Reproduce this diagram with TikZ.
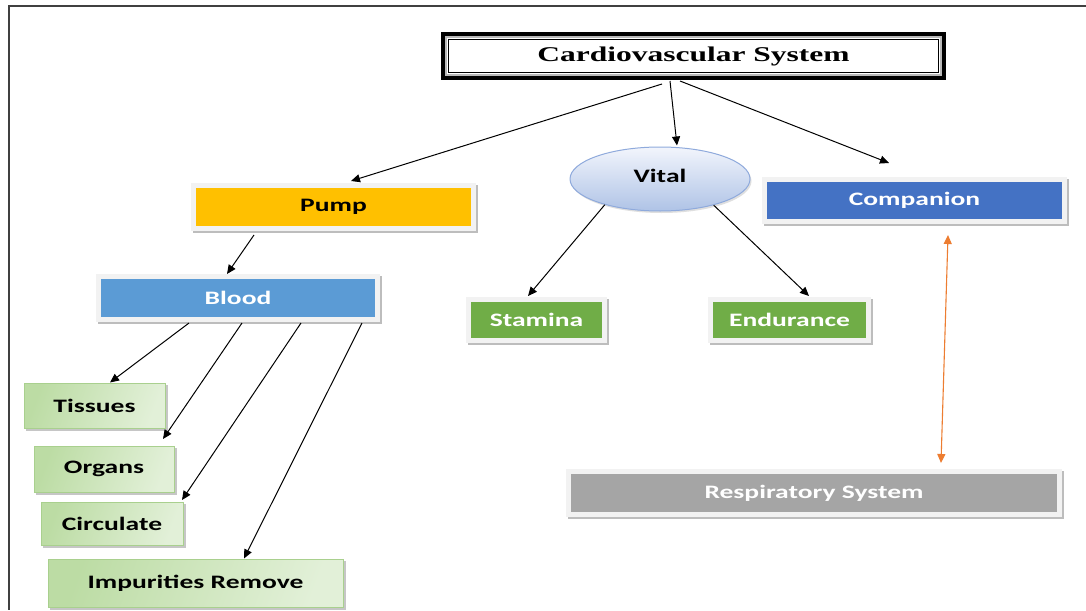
\documentclass[tikz,border=0pt]{standalone}
\usepackage{fontspec}
\usetikzlibrary{arrows.meta,calc,shapes.geometric}
\newfontfamily\boxfont{Carlito}[FakeStretch=1.45]
\newfontfamily\titlefont{Liberation Serif}[FakeStretch=1.5]
\definecolor{pumpc}{HTML}{FFC000}
\definecolor{bloodc}{HTML}{5B9BD5}
\definecolor{compc}{HTML}{4472C4}
\definecolor{greenc}{HTML}{70AD47}
\definecolor{respc}{HTML}{A5A5A5}
\definecolor{rim}{HTML}{F2F2F2}
\definecolor{shadowc}{HTML}{BDBDBD}
\definecolor{gone}{HTML}{BCDCA4}
\definecolor{gtwo}{HTML}{E2F0D8}
\definecolor{gbord}{HTML}{A9D08E}
\definecolor{vone}{HTML}{F2F5FC}
\definecolor{vtwo}{HTML}{AFC3E6}
\definecolor{vbord}{HTML}{8FAADC}
\definecolor{orangec}{HTML}{ED7D31}
\pgfdeclarelayer{background}
\pgfsetlayers{background,main}
\begin{document}
\begin{tikzpicture}[x=1pt,y=-1pt,
  bfont/.style={font=\boxfont\bfseries\fontsize{19pt}{22pt}\selectfont},
  plainbox/.style={bfont, draw=rim, line width=5pt, fill=#1, inner sep=0pt, text=white},
  greenbox/.style={bfont, draw=gbord, line width=1pt, left color=gone, right color=gtwo, shading angle=70, inner sep=0pt, text=black},
  arr/.style={-{Triangle[length=9pt,width=8pt]}, line width=1pt, black},
  oarr/.style={{Triangle[length=9pt,width=8pt]}-{Triangle[length=9pt,width=8pt]}, line width=1.1pt, orangec},
]
\useasboundingbox (0,0) rectangle (1086,610);
% frame
\draw[line width=1.6pt, black!75] (8,6) -- (1086,6);
\draw[line width=1.6pt, black!75] (9,5.2) -- (9,610);

% title
\node[draw=black, line width=1pt, fill=white, minimum width=490pt, minimum height=33pt, inner sep=0pt,
      font=\titlefont\bfseries\fontsize{21pt}{24pt}\selectfont] (title) at (693.5,56) {Cardiovascular System};
\draw[black, line width=4pt] ([shift={(-5pt,-5pt)}]title.south west) rectangle ([shift={(5pt,5pt)}]title.north east);
\draw[gray!55, line width=2.5pt] ([shift={(-1.8pt,-1.8pt)}]title.south west) rectangle ([shift={(1.8pt,1.8pt)}]title.north east);

% plain boxes
\node[plainbox=pumpc, text=black, minimum width=280pt, minimum height=43pt] (pump) at (333.5,207) {Pump};
\node[plainbox=bloodc, minimum width=279pt, minimum height=43pt] (blood) at (238,298) {Blood};
\node[plainbox=compc, minimum width=300pt, minimum height=42pt] (comp) at (914.5,200.5) {Companion};
\node[plainbox=greenc, minimum width=136pt, minimum height=41pt] (stam) at (536.5,320) {Stamina};
\node[plainbox=greenc, minimum width=158pt, minimum height=41pt] (endu) at (789.5,320) {Endurance};
\node[plainbox=respc, minimum width=491pt, minimum height=43pt] (resp) at (814,493) {Respiratory System};

% vital
\node[ellipse, bfont, draw=vbord, line width=1pt, top color=vone, bottom color=vtwo,
      minimum width=180pt, minimum height=64pt, inner sep=0pt] (vital) at (660,179) {\raisebox{6pt}{Vital}};

% green boxes
\node[greenbox, minimum width=141pt, minimum height=45pt] (tiss) at (94.5,405.5) {Tissues};
\node[greenbox, minimum width=140pt, minimum height=46pt] (org) at (104,469) {Organs};
\node[greenbox, minimum width=142pt, minimum height=43pt] (circ) at (112,523.5) {Circulate};
\node[greenbox, minimum width=295pt, minimum height=48pt] (imp) at (195.5,583) {Impurities Remove};

% shadows
\begin{pgfonlayer}{background}
\fill[white] (0,0) rectangle (1086,610);
\foreach \n in {pump,blood,comp,stam,endu,resp}
  \fill[shadowc] ([shift={(1.8pt,-1.8pt)}]\n.south west) rectangle ([shift={(1.8pt,-1.8pt)}]\n.north east);
\foreach \n in {tiss,org,circ,imp}
  \fill[gray!45] ([shift={(2.5pt,-2.5pt)}]\n.south west) rectangle ([shift={(2.5pt,-2.5pt)}]\n.north east);
\fill[gray!25] ([shift={(1.5pt,-2pt)}]vital.center) ellipse [x radius=90pt, y radius=32pt];
\end{pgfonlayer}

% connectors
\draw[arr] ([xshift=-31.5pt,yshift=-11pt]title.south) -- ([xshift=17.5pt,yshift=2pt]pump.north);
\draw[arr] ([xshift=-23.5pt,yshift=-8pt]title.south) -- ([xshift=17pt,yshift=1pt]vital.north);
\draw[arr] ([xshift=-13.5pt,yshift=-8pt]title.south) -- ([xshift=-25.5pt,yshift=14pt]comp.north);
\draw[arr] (vital.205) -- ([xshift=-8.5pt,yshift=1pt]stam.north);
\draw[arr] (vital.-26) -- ([xshift=19.5pt,yshift=1pt]endu.north);
\draw[arr] ([xshift=-79.5pt,yshift=-4pt]pump.south) -- ([xshift=-11pt]blood.north);
\draw[arr] ([xshift=-49pt,yshift=-1pt]blood.south) -- ([xshift=15.5pt]tiss.north);
\draw[arr] ([xshift=4pt,yshift=-1pt]blood.south) -- ([xshift=59pt,yshift=6.5pt]org.north);
\draw[arr] ([xshift=63pt,yshift=-1pt]blood.south) -- ([xshift=70pt,yshift=1.5pt]circ.north);
\draw[arr] ([xshift=124pt,yshift=-1pt]blood.south) -- ([xshift=48.5pt]imp.north);
\draw[oarr] ([xshift=33.5pt,yshift=-11pt]comp.south) -- ([xshift=127pt,yshift=6pt]resp.north);
\end{tikzpicture}
\end{document}
